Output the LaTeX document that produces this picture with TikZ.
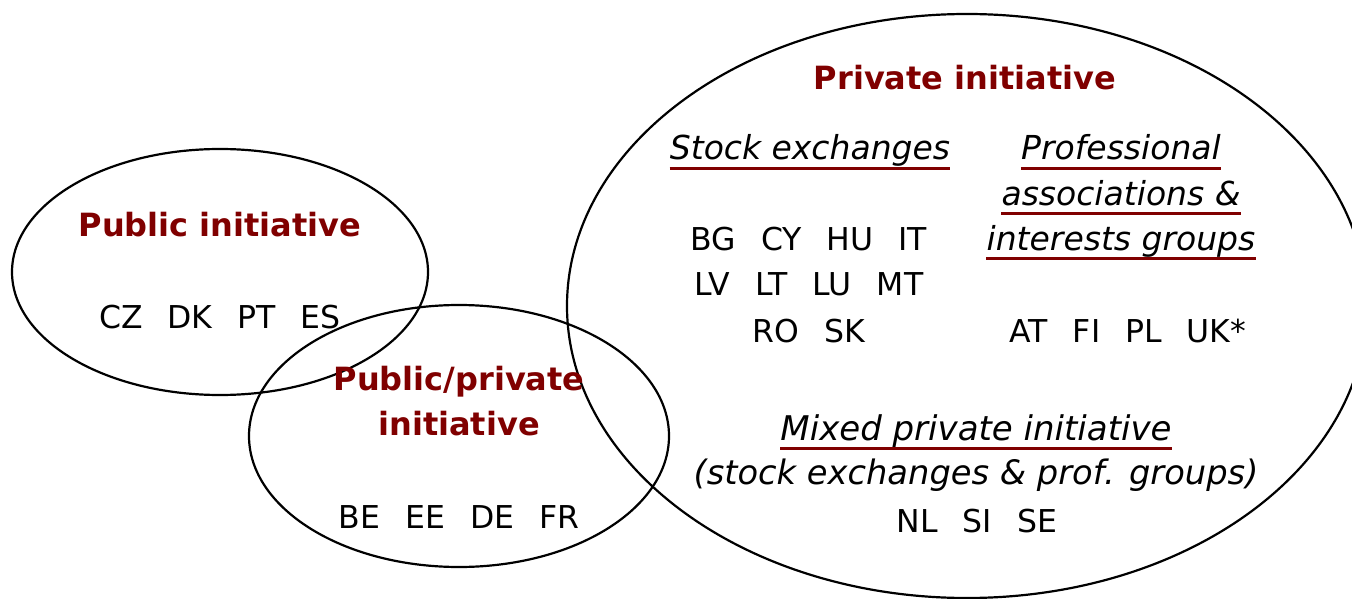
\documentclass[tikz,border=0pt]{standalone}
\usepackage{fontspec}
\setmainfont{DejaVu Sans}
\definecolor{dred}{RGB}{128,0,0}
\newcommand{\gp}{\hspace{25pt}}
\begin{document}
\begin{tikzpicture}[x=1pt,y=-1pt,
  titletext/.style={font=\fontsize{32}{38}\selectfont\bfseries, text=dred, anchor=base, inner sep=0pt},
  codetext/.style={font=\fontsize{31.5}{38}\selectfont, anchor=base, inner sep=0pt},
  labtext/.style={font=\fontsize{33}{40}\selectfont\itshape, anchor=base, inner sep=0pt},
  uline/.style={draw=dred, line width=3pt},
  oval/.style={draw=black, line width=2.2pt}]
\useasboundingbox (0,0) rectangle (1352,599);
\clip (0,0) rectangle (1352,599);
% ellipses
\draw[oval] (220,272) ellipse [x radius=208, y radius=123];
\draw[oval] (459,436) ellipse [x radius=210, y radius=131];
\draw[oval] (967,306) ellipse [x radius=400, y radius=292];
% public
\node[titletext] (pubT) at (220,236) {Public initiative};
\node[codetext] (pubC) at (220,328) {CZ\gp DK\gp PT\gp ES};
% public/private
\node[titletext] (ppT1) at (459,390) {Public/private};
\node[titletext] (ppT2) at (459,435) {initiative};
\node[codetext] (ppC) at (459,528) {BE\gp EE\gp DE\gp FR};
% private
\node[titletext] (prT) at (965,90) {Private initiative};
\node[labtext] (se) at (810,160) {Stock exchanges};
\node[labtext] (pa1) at (1121,160) {Professional};
\node[labtext] (pa2) at (1121,205) {associations \&};
\node[labtext] (pa3) at (1121,250) {interests groups};
\node[codetext] (se1) at (809,250) {BG\gp CY\gp HU\gp IT};
\node[codetext] (se2) at (809,295) {LV\gp LT\gp LU\gp MT};
\node[codetext] (se3) at (809,342) {RO\gp SK};
\node[codetext] (paC) at (1128,342) {AT\gp FI\gp PL\gp UK*};
\node[labtext,font=\fontsize{34}{40}\selectfont\itshape] (mx1) at (976,440) {Mixed private initiative};
\node[labtext,font=\fontsize{33.7}{40}\selectfont\itshape] (mx2) at (976,484) {(stock exchanges \& prof. groups)};
\node[codetext] (mxC) at (977,532) {NL\gp SI\gp SE};
% underlines
\foreach \n in {se,pa1,pa2,pa3,mx1}
  \draw[uline] ([yshift=-8pt]\n.base west) -- ([yshift=-8pt]\n.base east);
\end{tikzpicture}
\end{document}
